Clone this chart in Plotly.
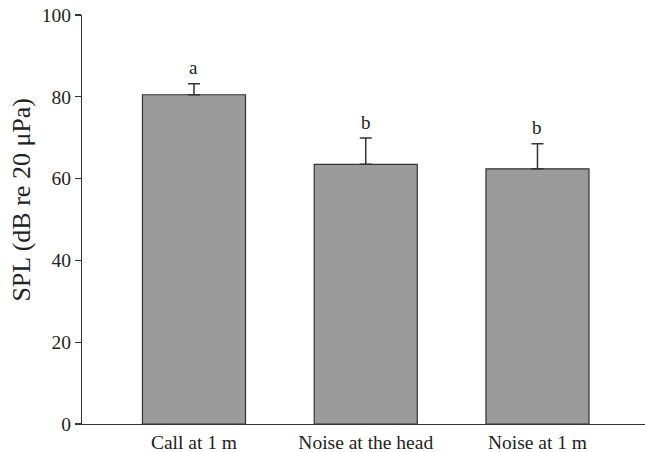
import plotly.graph_objects as go

categories = ["Call at 1 m", "Noise at the head", "Noise at 1 m"]
spl_means = [80.5, 63.5, 62.4]
spl_errors = [2.7, 6.4, 6.1]
group_letters = ["a", "b", "b"]
y_ticks = [0, 20, 40, 60, 80, 100]
y_title = "SPL (dB re 20 μPa)"

FONT = "Liberation Serif, Times New Roman, serif"
INK = "#222222"
positions = list(range(len(categories)))

fig = go.Figure()
fig.add_trace(go.Bar(
    x=positions,
    y=spl_means,
    width=0.6,
    marker=dict(color="#9b9b9b", line=dict(color="#333333", width=1.2)),
    error_y=dict(type="data", symmetric=False, array=spl_errors,
                 arrayminus=[0] * len(spl_errors),
                 color="#333333", thickness=1.5, width=6),
    showlegend=False,
    hoverinfo="skip",
))

for p, m, e, t in zip(positions, spl_means, spl_errors, group_letters):
    fig.add_annotation(x=p, y=m + e, text=t, showarrow=False,
                       yanchor="middle", yshift=16,
                       font=dict(family=FONT, size=19, color=INK))

# y-axis title placed as an annotation (sits a bit above the axis centre)
fig.add_annotation(x=0, y=0.5486, xref="paper", yref="paper",
                   xanchor="center", yanchor="middle", xshift=-60,
                   text=y_title, textangle=-90, showarrow=False,
                   font=dict(family=FONT, size=26, color=INK))

fig.update_layout(
    width=645, height=452,
    margin=dict(l=82, r=0, t=15, b=28),
    paper_bgcolor="white", plot_bgcolor="white",
    font=dict(family=FONT, size=19, color=INK),
)
fig.update_xaxes(
    range=[-0.652, 2.626],
    tickvals=positions, ticktext=categories,
    showline=True, linecolor="#333333", linewidth=1.2,
    ticks="", showgrid=False, zeroline=False, automargin=False,
    tickfont=dict(family=FONT, size=19.5, color=INK),
)
fig.update_yaxes(
    range=[0, 100], tickvals=y_ticks,
    showline=True, linecolor="#333333", linewidth=1.2,
    ticks="outside", ticklen=6, tickwidth=1.2, tickcolor="#333333",
    showgrid=False, zeroline=False, automargin=False,
    ticklabeloverflow="allow",
    tickfont=dict(family=FONT, size=19.5, color=INK),
)

fig.write_html(
    "out.html",
    config={"displayModeBar": False, "staticPlot": True},
    post_script="document.body.style.margin='0';document.body.style.overflow='hidden';",
)
